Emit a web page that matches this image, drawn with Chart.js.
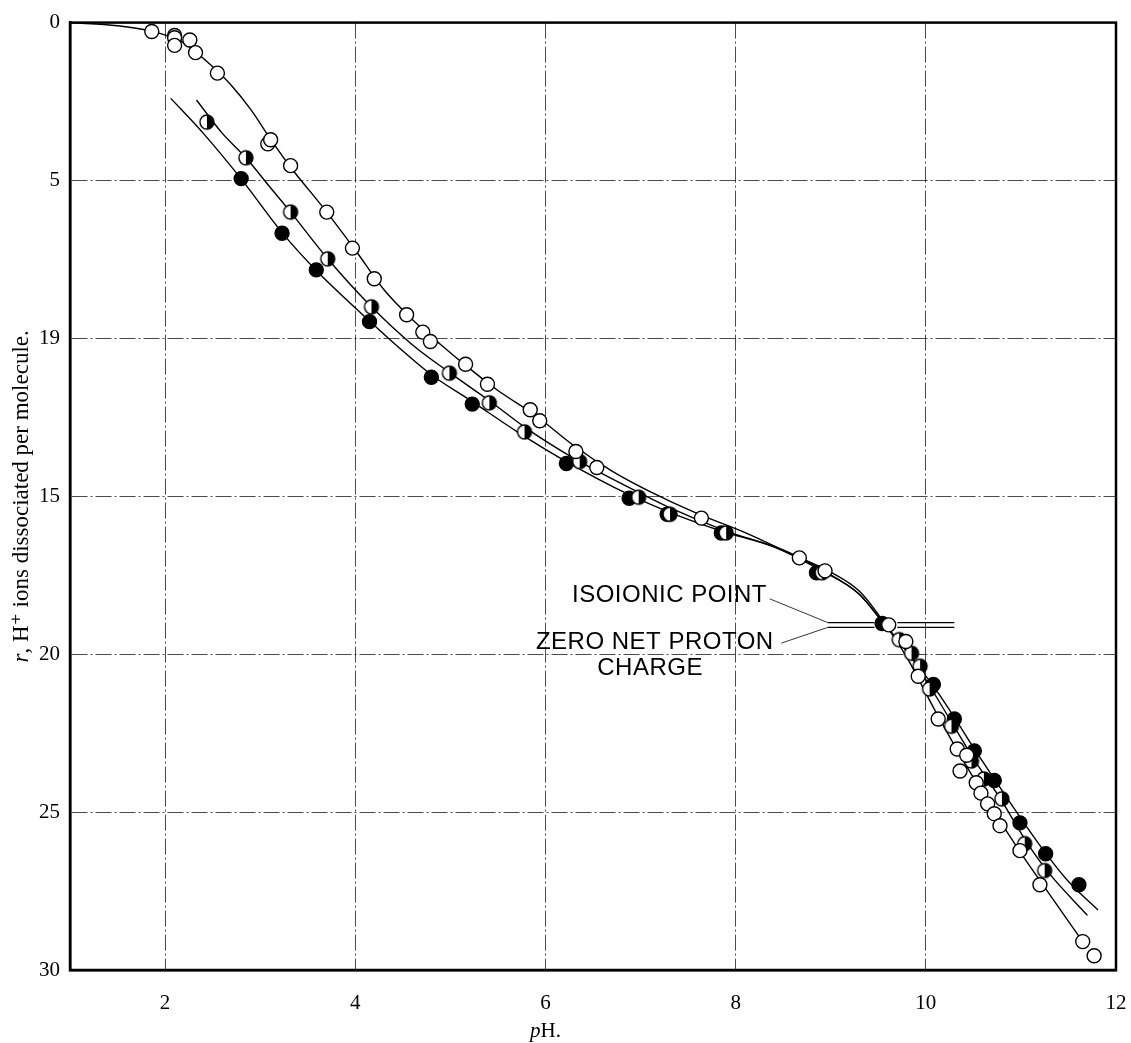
<!DOCTYPE html>
<html>
<head>
<meta charset="utf-8">
<script src="https://cdn.jsdelivr.net/npm/chart.js@4.4.1/dist/chart.umd.min.js"></script>
<style>
  body { margin: 0; background: #fff; }
  canvas { display: block; }
</style>
</head>
<body>
<canvas id="titration-chart" width="1131" height="1043"></canvas>
<script>
// axis ticks
const xTickValues = [2, 4, 6, 8, 10, 12];
const yTickValues = [0, 5, 10, 15, 20, 25, 30];
const yTickLabels = ['0', '5', '19', '15', '20', '25', '30'];

// open circles
const openPH = [1.86, 2.10, 2.10, 2.10, 2.26, 2.32, 2.55, 3.08, 3.11, 3.32, 3.70, 3.97, 4.20, 4.54, 4.71, 4.79,
  5.16, 5.39, 5.84, 5.94, 6.32, 6.54, 7.64, 8.67, 8.94, 9.61, 9.79, 9.92, 10.13, 10.33, 10.43, 10.36,
  10.53, 10.58, 10.65, 10.72, 10.78, 10.99, 11.20, 11.65, 11.77];
const openR = [0.28, 0.41, 0.48, 0.72, 0.55, 0.95, 1.6, 3.84, 3.71, 4.53, 6.0, 7.14, 8.11, 9.25, 9.8, 10.1,
  10.82, 11.45, 12.26, 12.61, 13.58, 14.09, 15.69, 16.95, 17.36, 19.07, 19.6, 20.7, 22.05, 23.0, 23.2, 23.7,
  24.07, 24.4, 24.74, 25.05, 25.43, 26.22, 27.3, 29.1, 29.55];

// half-filled circles
const halfPH = [2.44, 2.85, 3.32, 3.71, 4.17, 4.99, 5.41, 5.78, 6.36, 6.98, 7.31, 7.90, 8.91, 9.72, 9.85, 9.94,
  10.04, 10.27, 10.48, 10.61, 10.80, 11.04, 11.25];
const halfR = [3.15, 4.28, 6.0, 7.48, 9.0, 11.1, 12.04, 12.96, 13.9, 15.03, 15.57, 16.16, 17.42, 19.54, 19.97, 20.38,
  21.1, 22.28, 23.38, 23.95, 24.58, 26.0, 26.85];

// filled circles
const filledPH = [2.80, 3.23, 3.59, 4.15, 4.80, 5.23, 6.22, 6.88, 7.28, 7.85, 8.85, 9.54, 10.08, 10.30, 10.51,
  10.72, 10.99, 11.26, 11.61];
const filledR = [4.94, 6.67, 7.83, 9.47, 11.23, 12.08, 13.96, 15.06, 15.57, 16.16, 17.42, 19.03, 20.96, 22.05, 23.06,
  24.0, 25.34, 26.32, 27.3];

// drawn curves
const openCurvePH = [1.0, 1.5, 1.9, 2.2, 2.5, 2.7, 2.9, 3.1, 3.3, 3.7, 4.0, 4.3, 4.6, 4.9, 5.2, 5.5, 5.9, 6.3, 6.7,
  7.1, 7.6, 8.1, 8.6, 9.0, 9.3, 9.55, 9.8, 10.1, 10.4, 10.7, 11.0, 11.3, 11.65];
const openCurveR = [0.0, 0.1, 0.3, 0.65, 1.4, 2.0, 2.75, 3.65, 4.5, 6.0, 7.2, 8.45, 9.4, 10.2, 10.95, 11.65, 12.45,
  13.4, 14.2, 14.85, 15.55, 16.15, 16.85, 17.4, 18.0, 18.95, 20.1, 21.8, 23.4, 24.9, 26.3, 27.6, 29.1];

const halfCurvePH = [2.33, 2.6, 2.85, 3.1, 3.32, 3.71, 4.17, 4.6, 5.0, 5.4, 5.8, 6.3, 6.8, 7.3, 7.9, 8.5, 8.95,
  9.3, 9.55, 9.85, 10.1, 10.3, 10.5, 10.8, 11.05, 11.3, 11.7];
const halfCurveR = [2.45, 3.5, 4.28, 5.2, 6.0, 7.48, 9.0, 10.2, 11.1, 11.95, 12.85, 13.8, 14.6, 15.35, 16.1, 16.7,
  17.4, 18.1, 19.0, 20.1, 21.3, 22.3, 23.3, 24.65, 25.9, 26.95, 28.27];

const filledCurvePH = [2.06, 2.4, 2.8, 3.23, 3.59, 4.15, 4.5, 4.8, 5.23, 5.7, 6.22, 6.88, 7.3, 7.85, 8.4, 8.9,
  9.3, 9.55, 9.85, 10.1, 10.3, 10.51, 10.72, 11.0, 11.26, 11.5, 11.81];
const filledCurveR = [2.4, 3.5, 4.95, 6.65, 7.85, 9.45, 10.4, 11.15, 12.0, 12.95, 13.9, 14.95, 15.5, 16.1, 16.6,
  17.35, 18.1, 19.0, 20.1, 21.1, 22.0, 23.0, 23.95, 25.2, 26.3, 27.2, 28.1];

// annotation (data units)
const noteLabels = ['ISOIONIC POINT', 'ZERO NET PROTON', 'CHARGE'];
const noteAt = [[8.33, 18.15, 'right'], [8.40, 19.62, 'right'], [7.10, 20.45, 'center']];
const leaderLines = [[8.36, 18.25, 8.97, 19.0], [8.48, 19.65, 8.97, 19.15]];
const markLevels = [19.0, 19.15];
const markSpans = [[8.97, 9.46], [9.70, 10.30]];

// axis titles: [italic part, upright part]
const xTitle = ['p', 'H.'];
const xTitleAt = 6;
const yTitle = ['r', ', H\u207A ions dissociated per molecule.'];

const toPoints = (xs, ys) => xs.map((x, i) => ({ x: x, y: ys[i] }));

// half black / half white marker
function halfMarker() {
  const c = document.createElement('canvas');
  c.width = 18; c.height = 18;
  const g = c.getContext('2d');
  g.beginPath(); g.arc(9, 9, 7, 0, Math.PI * 2); g.fillStyle = '#fff'; g.fill();
  g.beginPath(); g.arc(9, 9, 7, -Math.PI / 2, Math.PI / 2); g.closePath(); g.fillStyle = '#000'; g.fill();
  g.beginPath(); g.arc(9, 9, 7, 0, Math.PI * 2); g.lineWidth = 1.4; g.strokeStyle = '#000'; g.stroke();
  return c;
}

const serif = '"Liberation Serif", "DejaVu Serif", serif';

// italic + upright text centred on (cx, cy), optionally rotated
function drawTitle(ctx, parts, size, cx, cy, rot) {
  const fonts = ['italic ' + size + 'px ' + serif, size + 'px ' + serif];
  const widths = parts.map((p, i) => { ctx.font = fonts[i]; return ctx.measureText(p).width; });
  const total = widths[0] + widths[1];
  ctx.save();
  ctx.translate(cx, cy);
  ctx.rotate(rot);
  ctx.textAlign = 'left';
  ctx.textBaseline = 'middle';
  let pos = -total / 2;
  parts.forEach((p, i) => {
    ctx.font = fonts[i];
    ctx.fillText(p, pos, 0);
    pos += widths[i];
  });
  ctx.restore();
}

const framePlugin = {
  id: 'frame',
  afterDraw(chart) {
    const { ctx, chartArea: a, scales } = chart;
    const x = scales.x, y = scales.y;
    ctx.save();
    // frame
    ctx.strokeStyle = '#000';
    ctx.lineWidth = 2.5;
    ctx.strokeRect(a.left, a.top, a.right - a.left, a.bottom - a.top);
    // isoionic marks
    ctx.lineWidth = 1.3;
    markLevels.forEach(level => {
      markSpans.forEach(span => {
        ctx.beginPath();
        ctx.moveTo(x.getPixelForValue(span[0]), y.getPixelForValue(level));
        ctx.lineTo(x.getPixelForValue(span[1]), y.getPixelForValue(level));
        ctx.stroke();
      });
    });
    ctx.lineWidth = 0.8;
    leaderLines.forEach(l => {
      ctx.beginPath();
      ctx.moveTo(x.getPixelForValue(l[0]), y.getPixelForValue(l[1]));
      ctx.lineTo(x.getPixelForValue(l[2]), y.getPixelForValue(l[3]));
      ctx.stroke();
    });
    ctx.fillStyle = '#000';
    ctx.font = '24px "Liberation Sans", Arial, sans-serif';
    ctx.letterSpacing = '0.5px';
    ctx.textBaseline = 'middle';
    noteLabels.forEach((t, i) => {
      ctx.textAlign = noteAt[i][2];
      ctx.fillText(t, x.getPixelForValue(noteAt[i][0]), y.getPixelForValue(noteAt[i][1]));
    });
    ctx.letterSpacing = '0px';
    // axis titles
    drawTitle(ctx, xTitle, 21, x.getPixelForValue(xTitleAt), a.bottom + 61, 0);
    drawTitle(ctx, yTitle, 23, 22, (a.top + a.bottom) / 2, -Math.PI / 2);
    ctx.restore();
  }
};

const ctx = document.getElementById('titration-chart').getContext('2d');
const chart = new Chart(ctx, {
  type: 'scatter',
  data: {
    datasets: [
      {
        label: 'open',
        data: toPoints(openPH, openR),
        pointRadius: 7,
        borderWidth: 1.4,
        borderColor: '#000',
        backgroundColor: '#fff'
      },
      {
        label: 'half',
        data: toPoints(halfPH, halfR),
        pointStyle: halfMarker(),
        pointRadius: 7
      },
      {
        label: 'filled',
        data: toPoints(filledPH, filledR),
        pointRadius: 7,
        borderWidth: 1.4,
        borderColor: '#000',
        backgroundColor: '#000'
      },
      {
        label: 'open curve',
        data: toPoints(openCurvePH, openCurveR),
        showLine: true,
        pointRadius: 0,
        borderColor: '#000',
        borderWidth: 1.4,
        cubicInterpolationMode: 'monotone'
      },
      {
        label: 'half curve',
        data: toPoints(halfCurvePH, halfCurveR),
        showLine: true,
        pointRadius: 0,
        borderColor: '#000',
        borderWidth: 1.4,
        cubicInterpolationMode: 'monotone'
      },
      {
        label: 'filled curve',
        data: toPoints(filledCurvePH, filledCurveR),
        showLine: true,
        pointRadius: 0,
        borderColor: '#000',
        borderWidth: 1.4,
        cubicInterpolationMode: 'monotone'
      }
    ]
  },
  options: {
    responsive: false,
    animation: false,
    layout: { padding: { top: 18, right: 15, left: 0, bottom: 0 } },
    plugins: {
      legend: { display: false },
      tooltip: { enabled: false }
    },
    scales: {
      x: {
        type: 'linear',
        min: 1,
        max: 12,
        afterBuildTicks: s => { s.ticks = xTickValues.map(v => ({ value: v })); },
        afterFit: s => { s.height = 73; s.paddingRight = 0; s.paddingLeft = 0; },
        grid: { color: 'rgba(0,0,0,0.7)', lineWidth: 1, drawTicks: false },
        border: { display: true, color: '#000', width: 2.5, dash: [16, 3, 2, 3] },
        ticks: { color: '#000', padding: 21, font: { family: serif, size: 21 } }
      },
      y: {
        type: 'linear',
        min: 0,
        max: 30,
        reverse: true,
        afterBuildTicks: s => { s.ticks = yTickValues.map(v => ({ value: v })); },
        afterFit: s => { s.width = 70; },
        grid: { color: 'rgba(0,0,0,0.7)', lineWidth: 1, drawTicks: false },
        border: { display: true, color: '#000', width: 2.5, dash: [16, 3, 2, 3] },
        ticks: {
          color: '#000',
          padding: 10,
          font: { family: serif, size: 21 },
          callback: (value, index) => yTickLabels[index]
        }
      }
    }
  },
  plugins: [framePlugin]
});
</script>
</body>
</html>
